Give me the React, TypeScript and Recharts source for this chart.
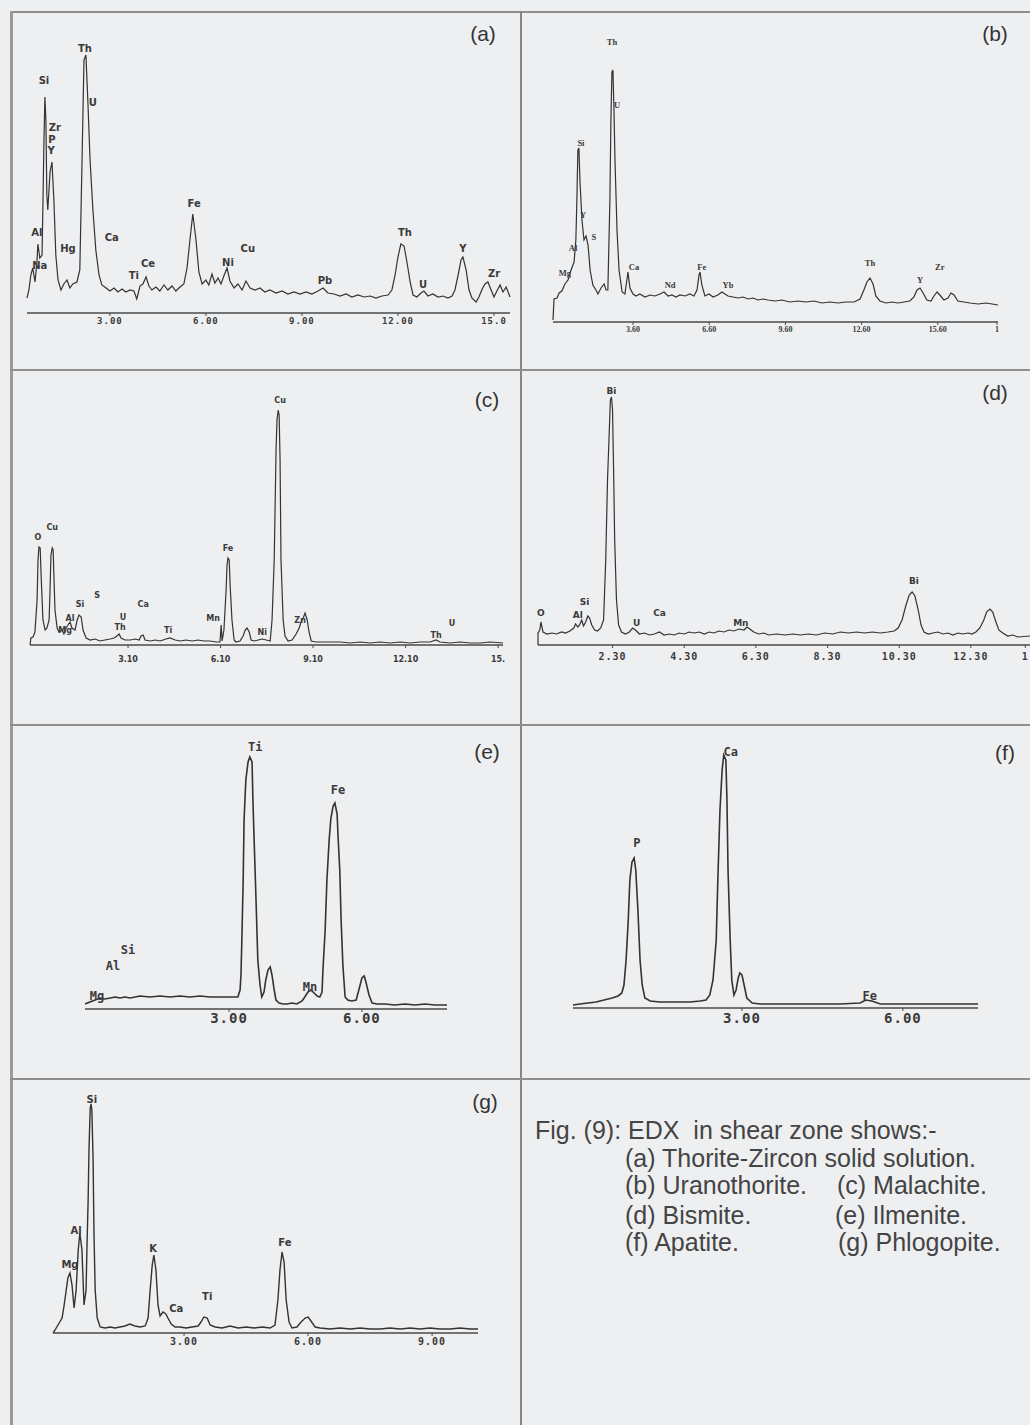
import React from "react";
import { ComposedChart, Line, Scatter, XAxis, YAxis } from "recharts";

type Pt = { e: number; c: number };
type Tag = { e: number; c: number; t: string };

const pts = (rows: number[][]): Pt[] => rows.map(([e, c]) => ({ e, c }));
const tags = (rows: [number, number, string][]): Tag[] =>
  rows.map(([e, c, t]) => ({ e, c, t }));

// (a) Thorite-Zircon: energy (keV) vs counts (arb.)
const spectrumA = pts([
  [0.41, 15], [0.47, 23], [0.53, 38], [0.59, 45], [0.66, 31], [0.72, 51], [0.75, 69], [0.81, 55],
  [0.88, 58], [0.91, 113], [0.94, 173], [0.97, 216], [1.0, 193], [1.03, 118], [1.06, 103], [1.13, 141],
  [1.19, 151], [1.25, 113], [1.31, 58], [1.38, 33], [1.47, 23], [1.56, 29], [1.66, 33], [1.75, 25],
  [1.84, 29], [1.97, 31], [2.06, 43], [2.13, 153], [2.19, 253], [2.25, 258], [2.31, 213], [2.38, 153],
  [2.47, 103], [2.56, 63], [2.66, 38], [2.75, 28], [2.88, 25], [3.0, 22], [3.13, 25], [3.25, 21],
  [3.38, 24], [3.5, 21], [3.63, 23], [3.75, 22], [3.84, 14], [3.94, 27], [4.03, 29], [4.13, 36],
  [4.22, 27], [4.31, 23], [4.44, 26], [4.56, 22], [4.69, 28], [4.81, 23], [4.94, 27], [5.06, 22],
  [5.19, 26], [5.31, 29], [5.41, 45], [5.5, 73], [5.59, 99], [5.69, 73], [5.78, 41], [5.88, 29],
  [6.0, 33], [6.09, 28], [6.19, 39], [6.28, 30], [6.38, 35], [6.47, 29], [6.56, 37], [6.66, 45],
  [6.75, 32], [6.88, 25], [7.0, 29], [7.13, 23], [7.25, 32], [7.38, 25], [7.53, 23], [7.69, 25],
  [7.84, 21], [8.0, 23], [8.19, 20], [8.38, 22], [8.56, 19], [8.75, 21], [8.94, 19], [9.13, 21],
  [9.31, 19], [9.5, 22], [9.66, 25], [9.81, 20], [10.0, 19], [10.19, 17], [10.38, 19], [10.56, 16],
  [10.75, 18], [10.94, 16], [11.13, 17], [11.31, 15], [11.5, 17], [11.69, 18], [11.81, 23], [11.91, 38],
  [12.0, 56], [12.09, 69], [12.19, 67], [12.28, 51], [12.38, 31], [12.47, 18], [12.59, 16], [12.72, 20],
  [12.81, 22], [12.94, 17], [13.09, 19], [13.25, 16], [13.41, 17], [13.56, 15], [13.69, 17], [13.78, 23],
  [13.88, 38], [13.97, 53], [14.03, 56], [14.13, 43], [14.22, 23], [14.31, 15], [14.44, 11], [14.53, 16],
  [14.63, 24], [14.72, 29], [14.81, 31], [14.91, 23], [15.0, 16], [15.09, 22], [15.19, 28], [15.28, 21],
  [15.38, 26], [15.5, 16],
]);
const peaksA = tags([
  [0.72, 81, "Al"], [0.81, 48, "Na"], [0.94, 233, "Si"], [1.28, 186, "Zr"], [1.19, 174, "P"],
  [1.16, 163, "Y"], [1.69, 65, "Hg"], [2.22, 265, "Th"], [2.47, 211, "U"], [3.06, 76, "Ca"],
  [3.75, 38, "Ti"], [4.19, 50, "Ce"], [5.63, 110, "Fe"], [6.69, 51, "Ni"], [7.31, 65, "Cu"],
  [9.72, 33, "Pb"], [12.22, 81, "Th"], [12.78, 29, "U"], [14.03, 65, "Y"], [15.0, 40, "Zr"],
]);
const ticksA = [3, 6, 9, 12, 15];
const tickLabelsA = ["3.00", "6.00", "9.00", "12.00", "15.0"];

// (b) Uranothorite
const spectrumB = pts([
  [0.45, 2], [0.49, 23], [0.61, 24], [0.69, 29], [0.8, 31], [0.92, 38], [1.04, 42], [1.16, 52],
  [1.28, 60], [1.35, 82], [1.39, 122], [1.43, 172], [1.47, 174], [1.51, 142], [1.59, 102], [1.67, 82],
  [1.75, 86], [1.83, 77], [1.91, 52], [2.02, 37], [2.14, 32], [2.22, 28], [2.34, 34], [2.46, 38],
  [2.54, 32], [2.61, 32], [2.69, 122], [2.73, 202], [2.77, 250], [2.81, 252], [2.85, 212], [2.89, 162],
  [2.97, 92], [3.05, 52], [3.17, 30], [3.28, 28], [3.36, 42], [3.4, 50], [3.48, 34], [3.6, 28],
  [3.72, 26], [3.87, 28], [4.07, 25], [4.27, 27], [4.46, 26], [4.66, 28], [4.82, 30], [4.98, 26],
  [5.13, 27], [5.29, 25], [5.45, 27], [5.65, 26], [5.84, 28], [6.0, 26], [6.12, 32], [6.2, 47],
  [6.24, 50], [6.31, 37], [6.43, 26], [6.59, 28], [6.75, 25], [6.94, 27], [7.1, 30], [7.22, 28],
  [7.34, 26], [7.54, 25], [7.73, 24], [7.93, 25], [8.13, 23], [8.32, 24], [8.52, 22], [8.72, 23],
  [8.91, 22], [9.19, 21], [9.46, 22], [9.78, 20], [10.09, 21], [10.41, 20], [10.72, 21], [11.04, 19],
  [11.35, 20], [11.67, 19], [11.98, 20], [12.3, 20], [12.54, 23], [12.69, 32], [12.81, 40], [12.93, 44],
  [13.05, 38], [13.16, 26], [13.32, 21], [13.56, 19], [13.79, 20], [14.03, 19], [14.27, 20], [14.5, 21],
  [14.66, 25], [14.78, 32], [14.9, 34], [15.02, 29], [15.17, 22], [15.33, 21], [15.45, 26], [15.57, 30],
  [15.68, 27], [15.84, 22], [16.0, 24], [16.12, 29], [16.24, 27], [16.39, 21], [16.63, 20], [16.87, 19],
  [17.19, 18], [17.5, 19], [17.74, 18], [17.97, 17],
]);
const peaksB = tags([
  [0.92, 49, "Mg"], [1.24, 74, "Al"], [1.55, 179, "Si"], [1.63, 107, "Y"], [2.06, 85, "S"],
  [2.77, 280, "Th"], [2.97, 217, "U"], [3.64, 55, "Ca"], [5.06, 37, "Nd"], [6.31, 55, "Fe"],
  [7.34, 37, "Yb"], [12.93, 59, "Th"], [14.9, 42, "Y"], [15.68, 55, "Zr"],
]);
const ticksB = [3.6, 6.6, 9.6, 12.6, 15.6, 17.93];
const tickLabelsB = ["3.60", "6.60", "9.60", "12.60", "15.60", "1"];

// (c) Malachite
const spectrumC = pts([
  [-0.08, 0], [-0.05, 7], [0.02, 8], [0.08, 13], [0.15, 45], [0.18, 85], [0.21, 98], [0.25, 97],
  [0.28, 70], [0.34, 25], [0.41, 15], [0.47, 17], [0.54, 25], [0.57, 55], [0.6, 90], [0.64, 97],
  [0.67, 95], [0.7, 65], [0.73, 35], [0.8, 17], [0.86, 13], [0.96, 15], [1.02, 11], [1.09, 17],
  [1.15, 20], [1.22, 23], [1.28, 17], [1.38, 15], [1.45, 25], [1.51, 30], [1.58, 28], [1.64, 15],
  [1.74, 7], [1.87, 5], [2.03, 6], [2.19, 4], [2.35, 5], [2.52, 6], [2.65, 7], [2.74, 9],
  [2.81, 11], [2.87, 7], [3.0, 5], [3.17, 5], [3.33, 6], [3.46, 5], [3.52, 9], [3.59, 10],
  [3.65, 5], [3.82, 4], [3.98, 5], [4.14, 4], [4.33, 6], [4.46, 7], [4.63, 5], [4.79, 4],
  [4.98, 5], [5.18, 4], [5.37, 5], [5.57, 4], [5.76, 4], [5.96, 3], [6.08, 3], [6.12, 20],
  [6.15, 4], [6.21, 15], [6.28, 55], [6.31, 80], [6.34, 87], [6.38, 85], [6.41, 60], [6.47, 25],
  [6.54, 5], [6.6, 3], [6.73, 4], [6.83, 9], [6.9, 15], [6.96, 17], [7.03, 13], [7.09, 5],
  [7.19, 4], [7.32, 5], [7.45, 6], [7.58, 5], [7.71, 4], [7.77, 25], [7.84, 85], [7.9, 195],
  [7.93, 225], [7.97, 235], [8.0, 230], [8.03, 185], [8.06, 85], [8.13, 25], [8.19, 9], [8.29, 4],
  [8.42, 5], [8.55, 11], [8.65, 17], [8.71, 23], [8.78, 27], [8.84, 32], [8.91, 25], [8.97, 13],
  [9.04, 4], [9.2, 3], [9.39, 3], [9.65, 3], [9.98, 3], [10.3, 2], [10.63, 3], [10.95, 2],
  [11.27, 3], [11.6, 2], [11.92, 3], [12.25, 2], [12.57, 3], [12.9, 3], [13.09, 5], [13.22, 3],
  [13.54, 2], [13.87, 3], [14.19, 2], [14.52, 2], [14.84, 3], [15.26, 2],
]);
const peaksC = tags([
  [0.18, 108, "O"], [0.64, 118, "Cu"], [1.06, 15, "Mg"], [1.22, 27, "Al"], [1.54, 41, "Si"],
  [2.1, 50, "S"], [2.94, 28, "U"], [2.84, 18, "Th"], [3.59, 41, "Ca"], [4.4, 15, "Ti"],
  [5.86, 27, "Mn"], [6.34, 97, "Fe"], [7.45, 13, "Ni"], [8.03, 245, "Cu"], [8.68, 25, "Zn"],
  [13.09, 10, "Th"], [13.61, 22, "U"],
]);
const ticksC = [3.1, 6.1, 9.1, 12.1, 15.1];
const tickLabelsC = ["3.10", "6.10", "9.10", "12.10", "15."];

// (d) Bismite
const spectrumD = pts([
  [0.22, 0], [0.22, 12], [0.27, 15], [0.3, 23], [0.36, 13], [0.47, 11], [0.61, 12], [0.74, 11],
  [0.88, 13], [0.99, 12], [1.11, 14], [1.22, 17], [1.27, 21], [1.33, 18], [1.38, 20], [1.44, 25],
  [1.49, 19], [1.55, 23], [1.61, 29], [1.66, 27], [1.72, 20], [1.8, 15], [1.88, 14], [1.97, 17],
  [2.05, 25], [2.11, 85], [2.16, 165], [2.22, 225], [2.24, 245], [2.27, 248], [2.3, 235], [2.33, 175],
  [2.36, 105], [2.41, 45], [2.47, 20], [2.55, 13], [2.66, 11], [2.77, 13], [2.86, 17], [2.94, 15],
  [3.05, 11], [3.19, 12], [3.33, 10], [3.47, 11], [3.61, 13], [3.74, 10], [3.88, 11], [4.02, 10],
  [4.16, 12], [4.3, 11], [4.44, 13], [4.58, 12], [4.72, 13], [4.86, 11], [5.0, 13], [5.13, 12],
  [5.27, 14], [5.41, 13], [5.55, 15], [5.69, 14], [5.83, 16], [5.97, 15], [6.05, 18], [6.13, 16],
  [6.24, 13], [6.38, 11], [6.52, 12], [6.66, 10], [6.88, 11], [7.11, 10], [7.33, 11], [7.55, 10],
  [7.77, 11], [7.99, 10], [8.22, 12], [8.44, 11], [8.66, 13], [8.88, 12], [9.11, 13], [9.33, 12],
  [9.55, 13], [9.77, 12], [9.99, 13], [10.16, 14], [10.27, 17], [10.38, 25], [10.49, 40], [10.58, 50],
  [10.66, 53], [10.74, 49], [10.83, 35], [10.91, 20], [10.99, 13], [11.11, 11], [11.24, 12], [11.38, 13],
  [11.52, 11], [11.66, 12], [11.8, 10], [11.94, 12], [12.08, 11], [12.22, 12], [12.33, 11], [12.44, 13],
  [12.55, 17], [12.66, 25], [12.74, 33], [12.83, 36], [12.91, 33], [13.0, 23], [13.08, 15], [13.19, 12],
  [13.33, 9], [13.47, 10], [13.61, 8], [13.95, 9],
]);
const peaksD = tags([
  [0.3, 32, "O"], [1.33, 30, "Al"], [1.52, 43, "Si"], [2.27, 254, "Bi"], [2.97, 22, "U"],
  [3.61, 32, "Ca"], [5.88, 22, "Mn"], [10.71, 64, "Bi"],
]);
const ticksD = [2.3, 4.3, 6.3, 8.3, 10.3, 12.3, 13.82];
const tickLabelsD = ["2.30", "4.30", "6.30", "8.30", "10.30", "12.30", "1"];

// (e) Ilmenite
const spectrumE = pts([
  [-0.25, 5], [-0.14, 7], [-0.02, 9], [0.09, 11], [0.2, 10], [0.32, 11], [0.43, 12], [0.54, 11],
  [0.65, 12], [0.77, 11], [0.88, 12], [0.99, 13], [1.22, 12], [1.44, 13], [1.67, 12], [1.89, 13],
  [2.12, 12], [2.35, 13], [2.57, 12], [2.8, 12], [3.02, 12], [3.2, 12], [3.25, 19], [3.27, 34],
  [3.29, 69], [3.32, 129], [3.34, 189], [3.38, 229], [3.43, 247], [3.47, 252], [3.52, 247], [3.54, 209],
  [3.56, 179], [3.61, 109], [3.65, 49], [3.7, 24], [3.74, 12], [3.79, 17], [3.83, 29], [3.88, 39],
  [3.93, 42], [3.97, 34], [4.02, 19], [4.06, 9], [4.13, 6], [4.22, 5], [4.31, 5], [4.42, 6],
  [4.53, 5], [4.65, 8], [4.71, 12], [4.78, 17], [4.85, 19], [4.92, 16], [4.99, 13], [5.05, 12],
  [5.1, 17], [5.12, 39], [5.17, 79], [5.21, 129], [5.26, 169], [5.3, 191], [5.35, 203], [5.39, 206],
  [5.44, 195], [5.46, 174], [5.5, 139], [5.53, 89], [5.57, 44], [5.62, 12], [5.68, 9], [5.77, 8],
  [5.87, 9], [5.93, 19], [6.0, 31], [6.05, 33], [6.09, 27], [6.16, 14], [6.23, 6], [6.34, 5],
  [6.52, 5], [6.74, 4], [6.97, 5], [7.2, 4], [7.42, 5], [7.65, 4], [7.92, 4],
]);
const peaksE = tags([
  [0.02, 13, "Mg"], [0.38, 43, "Al"], [0.72, 59, "Si"], [3.59, 262, "Ti"], [4.83, 22, "Mn"],
  [5.46, 219, "Fe"],
]);
const ticksE = [3, 6];
const tickLabelsE = ["3.00", "6.00"];

// (f) Apatite
const spectrumF = pts([
  [-0.15, 3], [-0.02, 4], [0.13, 5], [0.28, 6], [0.43, 8], [0.58, 10], [0.69, 12], [0.76, 15],
  [0.8, 23], [0.84, 48], [0.88, 88], [0.91, 128], [0.95, 146], [0.99, 150], [1.02, 138], [1.06, 98],
  [1.1, 48], [1.14, 23], [1.19, 10], [1.29, 7], [1.47, 6], [1.66, 6], [1.84, 6], [2.03, 6],
  [2.22, 7], [2.33, 8], [2.4, 13], [2.46, 28], [2.52, 68], [2.55, 128], [2.59, 198], [2.63, 238],
  [2.66, 253], [2.7, 248], [2.72, 208], [2.74, 138], [2.78, 68], [2.81, 28], [2.85, 13], [2.89, 18],
  [2.93, 30], [2.96, 35], [3.0, 33], [3.04, 23], [3.09, 10], [3.19, 5], [3.34, 4], [3.71, 4],
  [4.08, 4], [4.45, 4], [4.83, 4], [5.2, 5], [5.31, 8], [5.42, 7], [5.58, 4], [5.94, 4],
  [6.32, 4], [6.69, 4], [7.06, 4], [7.4, 4],
]);
const peaksF = tags([[1.04, 165, "P"], [2.79, 256, "Ca"], [5.38, 12, "Fe"]]);
const ticksF = [3, 6];
const tickLabelsF = ["3.00", "6.00"];

// (g) Phlogopite
const spectrumG = pts([
  [-0.17, 0], [-0.12, 3], [-0.05, 8], [0.05, 15], [0.1, 28], [0.15, 43], [0.19, 55], [0.24, 60],
  [0.29, 48], [0.34, 25], [0.39, 43], [0.44, 83], [0.48, 100], [0.53, 83], [0.58, 28], [0.63, 43],
  [0.65, 83], [0.68, 133], [0.7, 183], [0.73, 225], [0.75, 229], [0.77, 223], [0.8, 173], [0.82, 103],
  [0.85, 43], [0.9, 15], [0.97, 6], [1.09, 5], [1.21, 6], [1.33, 5], [1.45, 6], [1.57, 7],
  [1.69, 9], [1.81, 7], [1.94, 6], [2.06, 7], [2.13, 15], [2.18, 43], [2.23, 68], [2.27, 78],
  [2.32, 63], [2.37, 28], [2.42, 17], [2.49, 21], [2.56, 19], [2.61, 15], [2.69, 9], [2.78, 6],
  [2.9, 6], [3.05, 5], [3.19, 6], [3.34, 7], [3.41, 11], [3.48, 16], [3.56, 15], [3.63, 8],
  [3.75, 6], [3.92, 5], [4.11, 7], [4.31, 5], [4.5, 6], [4.69, 5], [4.89, 6], [5.08, 5],
  [5.2, 8], [5.27, 33], [5.32, 63], [5.37, 81], [5.42, 71], [5.47, 33], [5.54, 11], [5.61, 5],
  [5.73, 6], [5.83, 11], [5.93, 15], [6.0, 16], [6.07, 12], [6.17, 6], [6.29, 5], [6.53, 4],
  [6.77, 5], [7.02, 4], [7.26, 5], [7.5, 4], [7.74, 4], [7.98, 5], [8.23, 4], [8.47, 5],
  [8.71, 4], [8.95, 5], [9.19, 4], [9.44, 4], [9.68, 5], [9.92, 4], [10.11, 4],
]);
const peaksG = tags([
  [0.24, 69, "Mg"], [0.39, 103, "Al"], [0.77, 234, "Si"], [2.25, 85, "K"], [2.81, 25, "Ca"],
  [3.56, 37, "Ti"], [5.44, 91, "Fe"],
]);
const ticksG = [3, 6, 9];
const tickLabelsG = ["3.00", "6.00", "9.00"];

const captionLines = [
  "Fig. (9): EDX  in shear zone shows:-",
  "(a) Thorite-Zircon solid solution.",
  "(b) Uranothorite.",
  "(c) Malachite.",
  "(d) Bismite.",
  "(e) Ilmenite.",
  "(f) Apatite.",
  "(g) Phlogopite.",
];

const AXIS_H = 30;
const INK = "#3a3a3a";
const BG = "#eeeff1";

type Font = { size: number; family: string; weight?: number; spacing?: number };

type PanelProps = {
  box: [number, number, number, number];
  plot: [number, number, number, number];
  xDomain: [number, number];
  yMax: number;
  spectrum: Pt[];
  peaks: Tag[];
  ticks: number[];
  tickLabels: string[];
  tickFont: Font;
  tickMargin: number;
  peakFont: Font;
  strokeWidth?: number;
};

function Panel(p: PanelProps) {
  const [left, top, width, height] = p.box;
  const [pl, pr, pt, ay] = p.plot;
  const margin = {
    left: pl - left,
    right: left + width - pr,
    top: pt - top,
    bottom: top + height - ay - AXIS_H,
  };
  const renderTag = (s: any) => (
    <text
      x={s.cx}
      y={s.cy}
      textAnchor="middle"
      dominantBaseline="central"
      fontSize={p.peakFont.size}
      fontFamily={p.peakFont.family}
      fontWeight={p.peakFont.weight ?? 700}
      fill={INK}
    >
      {s.payload.t}
    </text>
  );
  return (
    <div style={{ position: "absolute", left, top, width, height }}>
      <ComposedChart width={width} height={height} margin={margin}>
        <XAxis
          type="number"
          dataKey="e"
          domain={p.xDomain}
          ticks={p.ticks}
          interval={0}
          height={AXIS_H}
          tickSize={3}
          tickMargin={p.tickMargin}
          tickFormatter={(v: number) => p.tickLabels[p.ticks.indexOf(v)] ?? ""}
          axisLine={{ stroke: "#4a4a4a", strokeWidth: 1.5 }}
          tickLine={{ stroke: "#4a4a4a" }}
          tick={{
            fontSize: p.tickFont.size,
            fontFamily: p.tickFont.family,
            fontWeight: p.tickFont.weight ?? 700,
            letterSpacing: p.tickFont.spacing ?? 0,
            fill: INK,
          }}
        />
        <YAxis type="number" domain={[0, p.yMax]} hide />
        <Line
          data={p.spectrum}
          dataKey="c"
          type="linear"
          dot={false}
          stroke="#333"
          strokeWidth={p.strokeWidth ?? 1.2}
          isAnimationActive={false}
        />
        <Scatter data={p.peaks} dataKey="c" shape={renderTag} isAnimationActive={false} />
      </ComposedChart>
    </div>
  );
}

const rule = (left: number, top: number, width: number, height: number, color: string) => (
  <div style={{ position: "absolute", left, top, width, height, background: color }} />
);

const letter = (x: number, y: number, t: string) => (
  <div
    style={{
      position: "absolute",
      left: x - 30,
      top: y - 13,
      width: 60,
      textAlign: "center",
      lineHeight: "26px",
      fontSize: 21,
      fontFamily: "'Liberation Sans', Arial, sans-serif",
      color: "#333",
    }}
  >
    {t}
  </div>
);

const captionLine = (x: number, y: number, t: string) => (
  <div
    style={{
      position: "absolute",
      left: x,
      top: y - 15,
      lineHeight: "30px",
      whiteSpace: "pre",
      fontSize: 25,
      fontFamily: "'Liberation Sans', Arial, sans-serif",
      color: "#444",
    }}
  >
    {t}
  </div>
);

const MONO = "'DejaVu Sans Mono', monospace";
const SANS = "'DejaVu Sans', sans-serif";
const SERIF = "'Liberation Serif', serif";

export default function App() {
  return (
    <div
      style={{
        position: "absolute",
        left: 0,
        top: 0,
        width: 1030,
        height: 1425,
        overflow: "hidden",
        background: BG,
      }}
    >
      {rule(10, 11, 1020, 2, "#8e8e8e")}
      {rule(10, 11, 3, 1414, "#9a9a9a")}
      {rule(520, 11, 2, 1414, "#858585")}
      {rule(10, 369, 1020, 2, "#8e8e8e")}
      {rule(10, 724, 1020, 2, "#8e8e8e")}
      {rule(10, 1078, 1020, 2, "#8e8e8e")}

      <Panel
        box={[13, 13, 507, 356]}
        plot={[27, 510, 33, 313]}
        xDomain={[0.41, 15.5]}
        yMax={280}
        spectrum={spectrumA}
        peaks={peaksA}
        ticks={ticksA}
        tickLabels={tickLabelsA}
        tickFont={{ size: 9, family: MONO, spacing: 1 }}
        tickMargin={2}
        peakFont={{ size: 10, family: SANS }}
      />
      <Panel
        box={[522, 13, 508, 356]}
        plot={[553, 998, 22, 322]}
        xDomain={[0.45, 17.97]}
        yMax={300}
        spectrum={spectrumB}
        peaks={peaksB}
        ticks={ticksB}
        tickLabels={tickLabelsB}
        tickFont={{ size: 8, family: SERIF }}
        tickMargin={1}
        peakFont={{ size: 8.5, family: SERIF }}
      />
      <Panel
        box={[13, 371, 507, 353]}
        plot={[30, 503, 385, 645]}
        xDomain={[-0.08, 15.26]}
        yMax={260}
        spectrum={spectrumC}
        peaks={peaksC}
        ticks={ticksC}
        tickLabels={tickLabelsC}
        tickFont={{ size: 8, family: SANS }}
        tickMargin={8}
        peakFont={{ size: 8, family: SANS }}
      />
      <Panel
        box={[522, 371, 508, 353]}
        plot={[538, 1030, 385, 645]}
        xDomain={[0.22, 13.95]}
        yMax={260}
        spectrum={spectrumD}
        peaks={peaksD}
        ticks={ticksD}
        tickLabels={tickLabelsD}
        tickFont={{ size: 10, family: MONO, spacing: 1 }}
        tickMargin={5}
        peakFont={{ size: 9, family: SANS }}
      />
      <Panel
        box={[13, 726, 507, 352]}
        plot={[85, 447, 744, 1009]}
        xDomain={[-0.25, 7.92]}
        yMax={265}
        spectrum={spectrumE}
        peaks={peaksE}
        ticks={ticksE}
        tickLabels={tickLabelsE}
        tickFont={{ size: 14, family: MONO, spacing: 1 }}
        tickMargin={1}
        peakFont={{ size: 12, family: MONO }}
        strokeWidth={1.6}
      />
      <Panel
        box={[522, 726, 508, 352]}
        plot={[573, 978, 743, 1008]}
        xDomain={[-0.15, 7.4]}
        yMax={265}
        spectrum={spectrumF}
        peaks={peaksF}
        ticks={ticksF}
        tickLabels={tickLabelsF}
        tickFont={{ size: 14, family: MONO, spacing: 1 }}
        tickMargin={2}
        peakFont={{ size: 12, family: MONO }}
        strokeWidth={1.6}
      />
      <Panel
        box={[13, 1080, 507, 345]}
        plot={[53, 478, 1093, 1333]}
        xDomain={[-0.17, 10.11]}
        yMax={240}
        spectrum={spectrumG}
        peaks={peaksG}
        ticks={ticksG}
        tickLabels={tickLabelsG}
        tickFont={{ size: 10, family: MONO, spacing: 1 }}
        tickMargin={2}
        peakFont={{ size: 10, family: SANS }}
        strokeWidth={1.4}
      />

      {letter(483, 34, "(a)")}
      {letter(995, 34, "(b)")}
      {letter(487, 400, "(c)")}
      {letter(995, 393, "(d)")}
      {letter(487, 752, "(e)")}
      {letter(1005, 753, "(f)")}
      {letter(485, 1102, "(g)")}

      {captionLine(535, 1130, captionLines[0])}
      {captionLine(625, 1158, captionLines[1])}
      {captionLine(625, 1185, captionLines[2])}
      {captionLine(837, 1185, captionLines[3])}
      {captionLine(625, 1215, captionLines[4])}
      {captionLine(835, 1215, captionLines[5])}
      {captionLine(625, 1242, captionLines[6])}
      {captionLine(838, 1242, captionLines[7])}
    </div>
  );
}
